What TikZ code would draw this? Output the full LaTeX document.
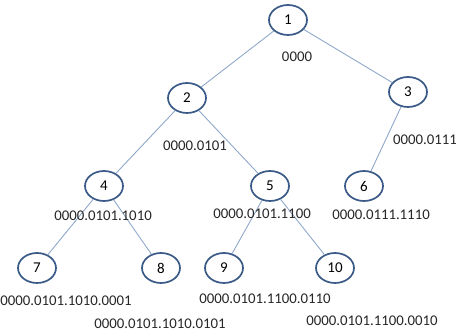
\documentclass[tikz,border=0pt]{standalone}
\usepackage{fontspec}
\setmainfont{Carlito}
\usetikzlibrary{shapes.geometric}

\begin{document}
\begin{tikzpicture}[x=1pt, y=-1pt,
        vertex/.style={ellipse, draw=vertexblue, line width=1.7pt, minimum width=38pt, minimum height=30pt, inner sep=0pt, font=\fontsize{15}{17}\selectfont},
        code/.style={inner sep=0pt, font=\fontsize{14.8}{16}\selectfont, text=black!85},
        link/.style={draw=linkblue, line width=0.9pt}]
        \definecolor{vertexblue}{HTML}{3A5A88}
        \definecolor{linkblue}{HTML}{8FA8CA}
        \useasboundingbox (0,0) rectangle (456,336);
        \node [vertex] (1) at (288,20) {1};
        \node [vertex] (2) at (187,98) {2};
        \node [vertex] (3) at (408,92) {3};
        \node [vertex] (4) at (104,186) {4};
        \node [vertex] (5) at (270,186) {5};
        \node [vertex] (6) at (364,186) {6};
        \node [vertex] (7) at (37,268) {7};
        \node [vertex] (8) at (161,268) {8};
        \node [vertex] (9) at (224,268) {9};
        \node [vertex] (10) at (335,268) {10};
        \draw[link] (1) -- (2);
        \draw[link] (1) -- (3);
        \draw[link] (2) -- (4);
        \draw[link] (2) -- (5);
        \draw[link] (3) -- (6);
        \draw[link] (4) -- (7);
        \draw[link] (4) -- (8);
        \draw[link] (5) -- (9);
        \draw[link] (5) -- (10);
        \node [code] (c1) at (297,57) {0000};
        \node [code] (c2) at (195,146) {0000.0101};
        \node [code] (c3) at (425,140) {0000.0111};
        \node [code] (c4) at (103,216) {0000.0101.1010};
        \node [code] (c5) at (262,214) {0000.0101.1100};
        \node [code] (c6) at (381,215) {0000.0111.1110};
        \node [code] (c7) at (66,301) {0000.0101.1010.0001};
        \node [code] (c9) at (265,299) {0000.0101.1100.0110};
        \node [code] (c8) at (160,324) {0000.0101.1010.0101};
        \node [code] (c10) at (372,321) {0000.0101.1100.0010};
      \end{tikzpicture}
\end{document}
